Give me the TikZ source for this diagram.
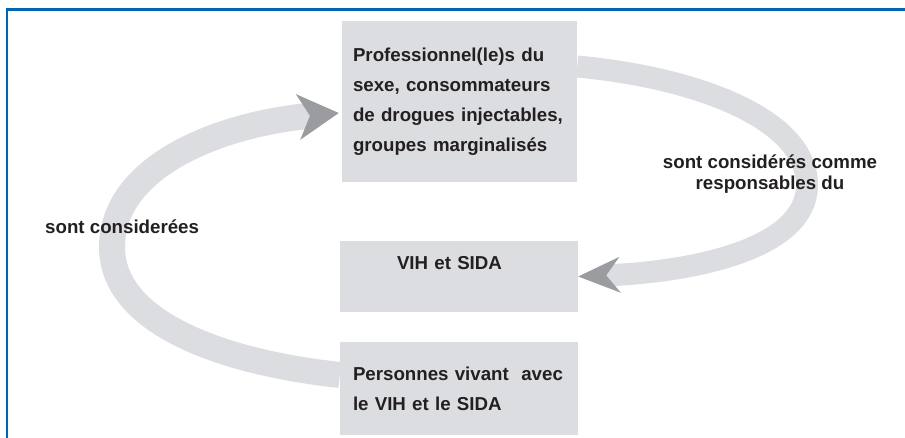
\documentclass[tikz,border=0pt]{standalone}
\usepackage{fontspec}
\setmainfont{Liberation Sans}
\usepackage{tikz}
\usetikzlibrary{arrows.meta}

\definecolor{boxgrey}{HTML}{DCDDE0}
\definecolor{tipgrey}{HTML}{9B9CA0}
\definecolor{ink}{HTML}{231F20}
\definecolor{frameblue}{HTML}{0066B3}

\begin{document}
\begin{tikzpicture}[x=1pt, y=-1pt,
	box/.style={fill=boxgrey, text=ink, align=left, font=\fontsize{18.7}{30}\selectfont\bfseries},
	band/.style={draw=boxgrey, line width=#1},
	lbl/.style={text=ink, inner sep=0pt, font=\fontsize{18.7}{21}\selectfont\bfseries}]
	\useasboundingbox (0,0) rectangle (905,438);
	% cadre
	\draw[frameblue, line width=2.5pt] (7,438) -- (7,9.3) -- (905,9.3);
	% les trois cases
	\node[box, minimum height=161pt, inner xsep=11pt, text width=213pt] (prof) at (459.5,101.5)
		{Professionnel(le)s du\\sexe, consommateurs\\de drogues injectables,\\groupes marginalisés};
	\node[box, minimum height=71pt, inner xsep=57pt, text width=124pt, text depth=27pt] (vih) at (459,276.5)
		{VIH et SIDA};
	\node[box, minimum height=93pt, inner xsep=13pt, text width=212pt] (pers) at (459,388.5)
		{Personnes vivant~ avec\\le VIH et le SIDA};
	% les deux fleches
	\draw[band=22pt, -{Stealth[length=42pt, width=36pt, inset=14pt, line width=0pt, color=tipgrey]}]
		([yshift=35pt]prof.east) .. controls (700,78) and (807,120) .. (807,185)
		.. controls (807,250) and (690,272) .. (vih.east);
	\draw[band=26pt, -{Stealth[length=41pt, width=46pt, inset=12pt, line width=0pt, color=tipgrey]}]
		([yshift=13.5pt]pers.west) .. controls (220,362) and (112,322) .. (112,247)
		.. controls (112,168) and (215,125) .. ([xshift=-3pt, yshift=-11.5pt]prof.west);
	% etiquettes
	\node[lbl, anchor=base west] (consid) at (45,234) {sont considerées};
	\node[lbl, align=center] (resp) at (770,174.5) {sont considérés comme\\responsables du};
\end{tikzpicture}
\end{document}
